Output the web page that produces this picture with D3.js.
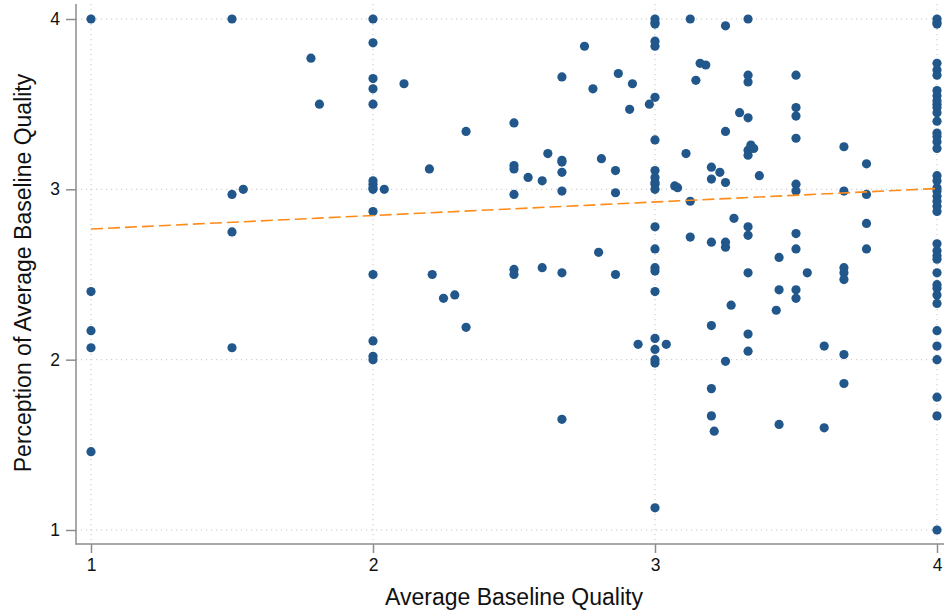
<!DOCTYPE html>
<html>
<head>
<meta charset="utf-8">
<script src="https://cdn.jsdelivr.net/npm/d3@7"></script>
<style>
  html, body { margin: 0; padding: 0; background: #fff; }
  svg { display: block; }
  text { font-family: "Liberation Sans", Arial, sans-serif; fill: #111; }
</style>
</head>
<body>
<svg id="chart" width="944" height="614"></svg>
<script>
// Average baseline quality (x) and perceived baseline quality (y), one entry per respondent
const baselineQuality = [
  1, 1, 1, 1, 1,
  1.5, 1.5, 1.5, 1.5,
  1.54, 1.78, 1.81,
  2, 2, 2, 2, 2, 2, 2, 2, 2, 2, 2, 2, 2, 2,
  2.04, 2.11, 2.2, 2.21, 2.25, 2.29, 2.33, 2.33,
  2.5, 2.5, 2.5, 2.5, 2.5, 2.5,
  2.55, 2.6, 2.6, 2.62,
  2.67, 2.67, 2.67, 2.67, 2.67, 2.67, 2.67,
  2.75, 2.78, 2.8, 2.81,
  2.86, 2.86, 2.86,
  2.87, 2.91, 2.92, 2.94, 2.98,
  3, 3, 3, 3, 3, 3, 3, 3, 3, 3, 3, 3, 3, 3, 3, 3, 3, 3, 3, 3, 3, 3,
  3.04, 3.07, 3.08, 3.11,
  3.125, 3.125, 3.125,
  3.145, 3.16, 3.18,
  3.2, 3.2, 3.2, 3.2, 3.2, 3.2,
  3.21, 3.23,
  3.25, 3.25, 3.25, 3.25, 3.25, 3.25,
  3.27, 3.28, 3.3,
  3.33, 3.33, 3.33, 3.33, 3.33, 3.33, 3.33, 3.33, 3.33, 3.33, 3.33,
  3.34, 3.35, 3.37, 3.43, 3.44, 3.44, 3.44,
  3.5, 3.5, 3.5, 3.5, 3.5, 3.5, 3.5, 3.5, 3.5, 3.5,
  3.54, 3.6, 3.6,
  3.67, 3.67, 3.67, 3.67, 3.67, 3.67, 3.67,
  3.75, 3.75, 3.75, 3.75,
  4, 4, 4, 4, 4, 4, 4, 4, 4, 4, 4, 4, 4, 4, 4, 4, 4, 4, 4, 4,
  4, 4, 4, 4, 4, 4, 4, 4, 4, 4, 4, 4, 4, 4, 4, 4, 4, 4, 4, 4
];
const perceivedQuality = [
  4.0, 2.40, 2.17, 2.07, 1.46,
  4.0, 2.97, 2.75, 2.07,
  3.0, 3.77, 3.50,
  4.0, 3.86, 3.65, 3.59, 3.50, 3.05, 3.03, 3.01, 3.0, 2.87, 2.50, 2.11, 2.02, 2.0,
  3.0, 3.62, 3.12, 2.50, 2.36, 2.38, 3.34, 2.19,
  3.39, 3.14, 3.12, 2.97, 2.53, 2.50,
  3.07, 3.05, 2.54, 3.21,
  3.66, 3.17, 3.16, 3.10, 2.99, 2.51, 1.65,
  3.84, 3.59, 2.63, 3.18,
  3.11, 2.98, 2.50,
  3.68, 3.47, 3.62, 2.09, 3.50,
  4.0, 3.98, 3.97, 3.87, 3.84, 3.54, 3.29, 3.11, 3.07, 3.04, 3.03, 3.0, 2.78, 2.65, 2.54, 2.52, 2.40, 2.125, 2.06, 2.0, 1.98, 1.13,
  2.09, 3.02, 3.01, 3.21,
  4.0, 2.93, 2.72,
  3.64, 3.74, 3.73,
  3.13, 3.06, 2.69, 2.20, 1.83, 1.67,
  1.58, 3.10,
  3.96, 3.34, 3.04, 2.69, 2.66, 1.99,
  2.32, 2.83, 3.45,
  4.0, 3.67, 3.63, 3.42, 3.23, 3.20, 2.78, 2.73, 2.51, 2.15, 2.05,
  3.26, 3.24, 3.08, 2.29, 2.60, 2.41, 1.62,
  3.67, 3.48, 3.43, 3.30, 3.03, 2.99, 2.74, 2.65, 2.41, 2.36,
  2.51, 2.08, 1.60,
  3.25, 2.99, 2.54, 2.51, 2.47, 2.03, 1.86,
  3.15, 2.97, 2.80, 2.65,
  4.0, 3.98, 3.97, 3.74, 3.70, 3.67, 3.58, 3.55, 3.52, 3.50, 3.48, 3.45, 3.40, 3.33, 3.31, 3.28, 3.24, 3.08, 3.05, 3.01,
  2.99, 2.96, 2.93, 2.90, 2.87, 2.68, 2.64, 2.61, 2.59, 2.51, 2.44, 2.42, 2.38, 2.33, 2.17, 2.08, 2.00, 1.78, 1.67, 1.0
];

// Linear fit endpoints
const fitX = [1, 4];
const fitY = [2.767, 3.005];

const xTicks = [1, 2, 3, 4];
const yTicks = [1, 2, 3, 4];

const svg = d3.select("#chart");
const W = 944, H = 614;

const x = d3.scaleLinear().domain([1, 4]).range([91, 937]);
const y = d3.scaleLinear().domain([1, 4]).range([530, 19]);

const axisLeftX = 76, axisBottomY = 544, plotTop = 4, plotRight = W;

// Dotted gridlines
const grid = svg.append("g")
  .attr("stroke", "#c4c4c4")
  .attr("stroke-width", 1)
  .attr("stroke-dasharray", "1.2,3.8");
grid.selectAll("line.gx").data(xTicks).join("line")
  .attr("x1", d => x(d)).attr("x2", d => x(d))
  .attr("y1", plotTop).attr("y2", axisBottomY);
grid.selectAll("line.gy").data(yTicks).join("line")
  .attr("y1", d => y(d)).attr("y2", d => y(d))
  .attr("x1", axisLeftX).attr("x2", plotRight);

// Axes
const xAxis = d3.axisBottom(x).tickValues(xTicks).tickSize(9).tickPadding(6).tickFormat(d3.format("d"));
const yAxis = d3.axisLeft(y).tickValues(yTicks).tickSize(10).tickPadding(6).tickFormat(d3.format("d"));

const gx = svg.append("g").attr("transform", `translate(0,${axisBottomY})`).call(xAxis);
const gy = svg.append("g").attr("transform", `translate(${axisLeftX},0)`).call(yAxis);

[gx, gy].forEach(g => {
  g.select(".domain").remove();
  g.selectAll(".tick line").attr("stroke", "#8c8c8c").attr("stroke-width", 1.5);
  g.selectAll(".tick text")
    .style("font-family", "'Liberation Sans', Arial, sans-serif")
    .style("font-size", "17.5px").attr("fill", "#111");
});

svg.append("line")
  .attr("x1", axisLeftX).attr("x2", axisLeftX)
  .attr("y1", plotTop).attr("y2", axisBottomY + 0.75)
  .attr("stroke", "#8c8c8c").attr("stroke-width", 1.5);
svg.append("line")
  .attr("x1", axisLeftX).attr("x2", plotRight)
  .attr("y1", axisBottomY).attr("y2", axisBottomY)
  .attr("stroke", "#8c8c8c").attr("stroke-width", 1.5);

// Scatter points
const points = baselineQuality.map((v, i) => ({ q: v, p: perceivedQuality[i] }));
svg.append("g").selectAll("circle").data(points).join("circle")
  .attr("cx", d => x(d.q))
  .attr("cy", d => y(d.p))
  .attr("r", 4.6)
  .attr("fill", "#21578a");

// Fitted line
const fitLine = d3.line().x(d => x(d[0])).y(d => y(d[1]));
svg.append("path")
  .datum(fitX.map((v, i) => [v, fitY[i]]))
  .attr("d", fitLine)
  .attr("fill", "none")
  .attr("stroke", "#ff8b1a")
  .attr("stroke-width", 1.6)
  .attr("stroke-dasharray", "12,5");

// Axis titles
svg.append("text")
  .attr("x", 514).attr("y", 605)
  .attr("text-anchor", "middle")
  .style("font-size", "23px")
  .text("Average Baseline Quality");

svg.append("text")
  .attr("transform", `translate(31,${273}) rotate(-90)`)
  .attr("text-anchor", "middle")
  .style("font-size", "23px")
  .text("Perception of Average Baseline Quality");
</script>
</body>
</html>
